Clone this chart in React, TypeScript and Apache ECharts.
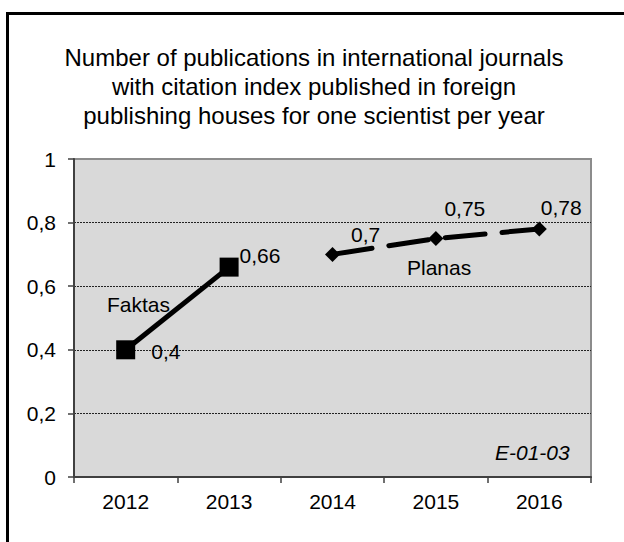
import React, { useEffect, useRef } from "react";
import * as echarts from "echarts";

const years = ["2012", "2013", "2014", "2015", "2016"];
const faktas = [0.4, 0.66, null, null, null];
const planas = [null, null, 0.7, 0.75, 0.78];
const yTicks = [0, 0.2, 0.4, 0.6, 0.8, 1];
const titleLines = [
  "Number of publications in international journals",
  "with citation index published in foreign",
  "publishing houses for one scientist per year",
];
const faktasName = "Faktas";
const planasName = "Planas";
const code = "E-01-03";

const FONT = "'Liberation Sans', Arial, sans-serif";
const fmt = (v: number) => String(v).replace(".", ",");

// label offsets (style only)
const faktasOffsets: number[][] = [[16, 2], [1, -12]];
const planasOffsets: number[][] = [[11, -20], [1, -30], [-6, -21]];

export default function App() {
  const ref = useRef<HTMLDivElement>(null);
  useEffect(() => {
    const chart = echarts.init(ref.current!, null, { renderer: "svg" });
    const mkData = (arr: (number | null)[], offs: number[][], start: number) =>
      arr.map((v, i) =>
        v == null
          ? null
          : {
              value: v,
              label: {
                show: true,
                position: "right",
                distance: 0,
                offset: offs[i - start],
              },
            }
      );
    chart.setOption({
      animation: false,
      backgroundColor: "#fff",
      title: {
        text: titleLines.join("\n"),
        left: 309,
        top: 38,
        textAlign: "center",
        textStyle: {
          fontFamily: FONT,
          fontSize: 24,
          fontWeight: "normal",
          color: "#000",
          lineHeight: 29,
        },
      },
      grid: {
        left: 74,
        top: 159,
        right: 33,
        bottom: 65,
        show: true,
        backgroundColor: "#d9d9d9",
        borderColor: "#8c8c8c",
        borderWidth: 2,
      },
      xAxis: {
        type: "category",
        data: years,
        boundaryGap: true,
        axisLine: { lineStyle: { color: "#404040", width: 2 } },
        axisTick: { show: true, length: 6, lineStyle: { color: "#404040", width: 1.5 } },
        axisLabel: { fontFamily: FONT, fontSize: 21, color: "#000", margin: 14 },
        splitLine: { show: false },
      },
      yAxis: {
        type: "value",
        min: yTicks[0],
        max: yTicks[yTicks.length - 1],
        interval: 0.2,
        axisLine: { show: true, lineStyle: { color: "#404040", width: 2 } },
        axisTick: { show: true, length: 6, lineStyle: { color: "#404040", width: 1.5 } },
        axisLabel: {
          fontFamily: FONT,
          fontSize: 21,
          color: "#000",
          margin: 18,
          formatter: (v: number) => fmt(v),
        },
        splitLine: {
          show: true,
          showMinLine: false,
          showMaxLine: false,
          lineStyle: { color: "#222", width: 1, type: [2, 1] },
        },
      },
      series: [
        {
          name: faktasName,
          type: "line",
          data: mkData(faktas, faktasOffsets, 0),
          symbol: "rect",
          symbolSize: 19,
          showAllSymbol: true,
          connectNulls: false,
          lineStyle: { color: "#000", width: 5 },
          itemStyle: { color: "#000" },
          label: {
            fontFamily: FONT,
            fontSize: 21,
            color: "#000",
            formatter: (p: any) => fmt(p.value),
          },
          z: 3,
        },
        {
          name: planasName,
          type: "line",
          data: mkData(planas, planasOffsets, 2),
          symbol: "diamond",
          symbolSize: [15, 15],
          showAllSymbol: true,
          connectNulls: false,
          lineStyle: { color: "#000", width: 5, type: [40, 17], cap: "round" },
          itemStyle: { color: "#000" },
          label: {
            fontFamily: FONT,
            fontSize: 21,
            color: "#000",
            formatter: (p: any) => fmt(p.value),
          },
          z: 3,
        },
      ],
      graphic: [
        { type: "line", shape: { x1: 7.5, y1: 13.5, x2: 624, y2: 13.5 }, style: { stroke: "#000", lineWidth: 3 }, z: 10 },
        { type: "line", shape: { x1: 7.5, y1: 12, x2: 7.5, y2: 542 }, style: { stroke: "#000", lineWidth: 3 }, z: 10 },
        {
          type: "text",
          left: 107,
          top: 294,
          style: { text: faktasName, font: `21px ${FONT}`, fill: "#000" },
          z: 10,
        },
        {
          type: "text",
          left: 407,
          top: 257,
          style: { text: planasName, font: `21px ${FONT}`, fill: "#000" },
          z: 10,
        },
        {
          type: "text",
          left: 495,
          top: 442,
          style: { text: code, font: `italic 21px ${FONT}`, fill: "#000" },
          z: 10,
        },
      ],
    });
    return () => chart.dispose();
  }, []);
  return (
    <div
      ref={ref}
      style={{ position: "fixed", left: 0, top: 0, width: 624, height: 542 }}
    />
  );
}
